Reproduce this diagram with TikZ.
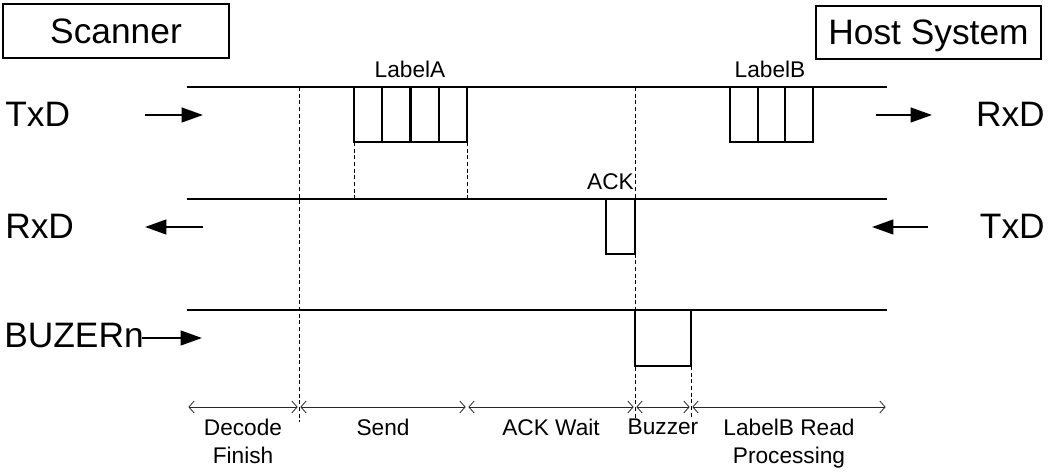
\documentclass[tikz,border=0pt]{standalone}
\usepackage{fontspec}
\setmainfont{Liberation Sans}
\usetikzlibrary{arrows.meta}
\begin{document}
\begin{tikzpicture}[x=0.75pt,y=-0.75pt,
  big/.style={font=\fontsize{26.5}{31}\selectfont, inner sep=0pt},
  small/.style={font=\fontsize{17}{21}\selectfont, inner sep=0pt, align=center},
  titlebox/.style={draw, line width=0.9pt, inner sep=0pt, text depth=0pt, font=\fontsize{26.5}{31}\selectfont},
  sig/.style={line width=1.6pt},
  guide/.style={line width=0.5pt, dash pattern=on 3pt off 2pt},
  dir/.style={line width=1.6pt, -{Triangle[length=16pt,width=11pt]}},
  span/.style={line width=0.6pt, black!85, {Straight Barb[length=4pt,width=9pt]}-{Straight Barb[length=4pt,width=9pt]}, shorten <=1pt, shorten >=1pt}]
\useasboundingbox (0,0) rectangle (1048,473);

% title boxes
\node[titlebox, minimum width=169.5pt, minimum height=40.5pt] (scanner) at (116,31) {Scanner};
\node[titlebox, minimum width=168.75pt, minimum height=39.75pt] (host) at (928.5,32.5) {Host System};

% side labels
\node[big, anchor=base west] (txdL) at (5,127) {TxD};
\node[big, anchor=base west] (rxdL) at (5,239) {RxD};
\node[big, anchor=base west] (buzL) at (4,348) {BUZERn};
\node[big, anchor=base east] (rxdR) at (1045,127) {RxD};
\node[big, anchor=base east] (txdR) at (1045,239) {TxD};

% direction arrows
\coordinate (a1s) at (145,115); \coordinate (a1e) at (203,115);
\coordinate (a2s) at (203,227); \coordinate (a2e) at (145,227);
\coordinate (a3s) at (142,338); \coordinate (a3e) at (202,338);
\coordinate (a4s) at (876,115); \coordinate (a4e) at (932,115);
\coordinate (a5s) at (928,227); \coordinate (a5e) at (872,227);
\draw[dir] (a1s) -- (a1e);
\draw[dir] (a2s) -- (a2e);
\draw[dir] (a3s) -- (a3e);
\draw[dir] (a4s) -- (a4e);
\draw[dir] (a5s) -- (a5e);

% guide lines (dashed)
\draw[guide] (299,87) -- (299,422);
\draw[guide] (354,142) -- (354,199);
\draw[guide] (467,142) -- (467,199);
\draw[guide] (635,87) -- (635,418);
\draw[guide] (691,366) -- (691,418);

% signal lines
\coordinate (tx0) at (187,87);  \coordinate (tx1) at (887,87);
\coordinate (rx0) at (187,199); \coordinate (rx1) at (887,199);
\coordinate (bz0) at (187,310); \coordinate (bz1) at (887,310);
\draw[sig] (tx0) -- (tx1);
\draw[sig] (rx0) -- (rx1);
\draw[sig] (bz0) -- (bz1);

% LabelA frame
\draw[sig] (354,87) rectangle (467,142);
\draw[sig] (382.25,87) -- (382.25,142);
\draw[sig] (410.5,87) -- (410.5,142);
\draw[sig] (438.75,87) -- (438.75,142);
% LabelB frame
\draw[sig] (730,87) rectangle (813,142);
\draw[sig] (757.7,87) -- (757.7,142);
\draw[sig] (785.3,87) -- (785.3,142);
% ACK pulse
\draw[sig] (606,199) rectangle (635,254);
% Buzzer pulse
\draw[sig] (635,310) rectangle (691,366);

% small labels
\node[small, anchor=base] (labA) at (410,78) {LabelA};
\node[small, anchor=base] (labB) at (770,78) {LabelB};
\node[small, anchor=base east] (ack) at (634,190) {ACK};

% span arrows
\coordinate (d0) at (187,407);
\coordinate (d1) at (299,407);
\coordinate (d2) at (467,407);
\coordinate (d3) at (635,407);
\coordinate (d4) at (691,407);
\coordinate (d5) at (887,407);
\draw[span] (d0) -- (d1);
\draw[span] (d1) -- (d2);
\draw[span] (d2) -- (d3);
\draw[span] (d3) -- (d4);
\draw[span] (d4) -- (d5);

% phase labels
\node[small, anchor=north] (ph1) at (243,419) {Decode\\Finish};
\node[small, anchor=north] (ph2) at (383,419) {Send};
\node[small, anchor=north] (ph3) at (551,419) {ACK Wait};
\node[small, anchor=north] (ph4) at (663,419) {Buzzer};
\node[small, anchor=north] (ph5) at (789,419) {LabelB Read\\Processing};
\end{tikzpicture}
\end{document}
